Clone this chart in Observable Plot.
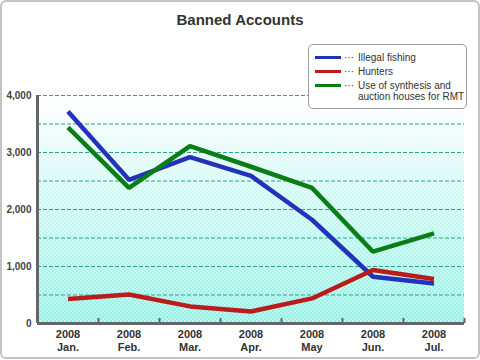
<!DOCTYPE html>
<html>
<head>
<meta charset="utf-8">
<script src="https://cdn.jsdelivr.net/npm/d3@7"></script>
<script src="https://cdn.jsdelivr.net/npm/@observablehq/plot@0.6"></script>
<style>
  html, body { margin: 0; padding: 0; background: #fff; }
  #wrap { position: relative; width: 480px; height: 360px; font-family: "Liberation Sans", Arial, sans-serif; overflow: hidden; }
  #frame { position: absolute; left: 0px; top: 0px; width: 476px; height: 355px; border: 2px solid #c4c4c4; border-radius: 6px; pointer-events: none; }
  #title { position: absolute; left: 0; top: 11px; width: 480px; text-align: center; font-size: 15px; font-weight: bold; color: #333; }
  #chart { position: absolute; left: 0; top: 0; }
  #legend { position: absolute; left: 308px; top: 44px; width: 157px; height: 63px; border: 1px solid #9a9a9a; border-radius: 5px; background: #fff; font-size: 10px; color: #333; }
  .item { position: absolute; left: 6px; display: flex; align-items: flex-start; line-height: 11px; }
  .sw { width: 26px; height: 3px; margin-top: 4px; }
  .dots { margin: 0 4px 0 3px; letter-spacing: 0px; }
</style>
</head>
<body>
<div id="wrap">
  <div id="chart"></div>
  <div id="title">Banned Accounts</div>
  <div id="legend"></div>
  <div id="frame"></div>
</div>
<script>
const months = ["Jan.", "Feb.", "Mar.", "Apr.", "May", "Jun.", "Jul."];
const year = "2008";
const seriesNames = ["Illegal fishing", "Hunters", "Use of synthesis and\nauction houses for RMT"];
const seriesColors = ["#2233bb", "#bb1b1b", "#0b7d16"];
const illegalFishing = [3720, 2520, 2920, 2590, 1820, 820, 700];
const hunters = [430, 510, 300, 210, 440, 940, 780];
const synthesisRMT = [3440, 2380, 3110, 2750, 2380, 1260, 1580];
const yTicks = [0, 1000, 2000, 3000, 4000];
const gridValues = [500, 1000, 1500, 2000, 2500, 3000, 3500, 4000];

const seriesValues = [illegalFishing, hunters, synthesisRMT];
const data = [];
seriesValues.forEach((vals, s) => vals.forEach((v, i) => data.push({series: s, i, v})));

const background = (index, scales, values, dims, context) => {
  const ns = "http://www.w3.org/2000/svg";
  const doc = context.document;
  const g = doc.createElementNS(ns, "g");
  const x0 = dims.marginLeft, x1 = dims.width - dims.marginRight;
  const y0 = dims.marginTop, y1 = dims.height - dims.marginBottom;
  g.innerHTML = `
    <defs>
      <linearGradient id="bgGrad" x1="0" y1="0" x2="0" y2="1">
        <stop offset="0" stop-color="#ffffff"/>
        <stop offset="0.4" stop-color="#d2faf4"/>
        <stop offset="1" stop-color="#90f1e4"/>
      </linearGradient>
      <pattern id="checker" width="4" height="4" patternUnits="userSpaceOnUse">
        <rect x="0" y="0" width="2" height="2" fill="#ffffff" fill-opacity="0.4"/>
        <rect x="2" y="2" width="2" height="2" fill="#ffffff" fill-opacity="0.4"/>
      </pattern>
    </defs>
    <rect x="${x0}" y="${y0}" width="${x1 - x0}" height="${y1 - y0}" fill="url(#bgGrad)"/>
    <rect x="${x0}" y="${y0}" width="${x1 - x0}" height="${y1 - y0}" fill="url(#checker)"/>`;
  return g;
};

const chart = Plot.plot({
  width: 480,
  height: 360,
  marginLeft: 37,
  marginRight: 16,
  marginTop: 95,
  marginBottom: 37,
  style: {background: "transparent", fontFamily: "Liberation Sans, Arial, sans-serif", color: "#333"},
  x: {type: "linear", domain: [-0.5, months.length - 0.5]},
  y: {domain: [0, 4000]},
  marks: [
    background,
    Plot.ruleY(gridValues, {stroke: "#2aa386", strokeWidth: 1, strokeDasharray: "4,2"}),
    Plot.axisY({ticks: yTicks, tickFormat: d3.format(","), tickSize: 0, tickPadding: 6, fontSize: 10, fontWeight: "bold", fill: "#444", label: null}),
    Plot.axisX({ticks: d3.range(months.length), tickSize: 0, tickPadding: 5, fontSize: 11, fontWeight: "bold", fill: "#333", lineHeight: 1.2,
      tickFormat: i => year + "\n" + months[i], label: null}),
    Plot.axisX({ticks: d3.range(months.length).map(i => i + 0.5), tickSize: -5, tickFormat: () => "", stroke: "#666", strokeWidth: 2, label: null}),
    Plot.line(data, {x: "i", y: "v", z: "series", stroke: d => seriesColors[d.series], strokeWidth: 4.5, strokeLinecap: "butt", strokeLinejoin: "miter"}),
    Plot.ruleX([-0.5], {stroke: "#666", strokeWidth: 3}),
    Plot.ruleY([0], {stroke: "#666", strokeWidth: 3})
  ]
});
document.getElementById("chart").appendChild(chart);

const legend = document.getElementById("legend");
const tops = [7, 21, 35];
seriesNames.forEach((name, k) => {
  const item = document.createElement("div");
  item.className = "item";
  item.style.top = tops[k] + "px";
  const sw = document.createElement("div");
  sw.className = "sw";
  sw.style.background = seriesColors[k];
  const dots = document.createElement("span");
  dots.className = "dots";
  dots.textContent = "···";
  const label = document.createElement("span");
  label.style.whiteSpace = "pre";
  label.textContent = name;
  item.append(sw, dots, label);
  legend.appendChild(item);
});
</script>
</body>
</html>
